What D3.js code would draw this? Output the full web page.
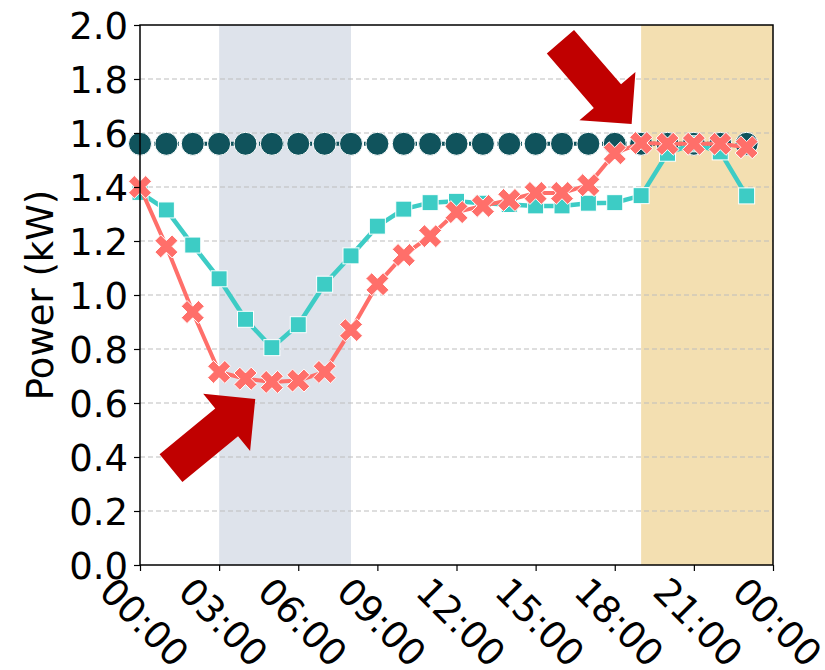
<!DOCTYPE html>
<html>
<head>
<meta charset="utf-8">
<script src="https://cdn.jsdelivr.net/npm/d3@7"></script>
<style>
  body { margin: 0; background: #fff; }
  svg { display: block; }
  text { font-family: "DejaVu Sans", sans-serif; fill: #000; }
</style>
</head>
<body>
<svg id="chart" width="825" height="670"></svg>
<script>
// Hour of day for each sample
const hours = [0, 1, 2, 3, 4, 5, 6, 7, 8, 9, 10, 11, 12, 13, 14, 15, 16, 17, 18, 19, 20, 21, 22, 23];

// Power draw (kW) per hour
const ratedPower = [1.56, 1.56, 1.56, 1.56, 1.56, 1.56, 1.56, 1.56, 1.56, 1.56, 1.56, 1.56,
                    1.56, 1.56, 1.56, 1.56, 1.56, 1.56, 1.56, 1.56, 1.56, 1.56, 1.56, 1.56];
const smoothedPower = [1.38, 1.315, 1.185, 1.06, 0.91, 0.805, 0.89, 1.04, 1.145, 1.255, 1.318, 1.342,
                       1.347, 1.34, 1.335, 1.33, 1.33, 1.34, 1.342, 1.368, 1.525, 1.56, 1.53, 1.367];
const shiftedPower = [1.40, 1.18, 0.937, 0.715, 0.69, 0.678, 0.683, 0.715, 0.87, 1.04, 1.148, 1.218,
                      1.307, 1.33, 1.352, 1.378, 1.378, 1.407, 1.525, 1.563, 1.56, 1.56, 1.56, 1.547];

// Axis ticks
const xTicks = [0, 3, 6, 9, 12, 15, 18, 21, 24];
const xTickLabels = ["00:00", "03:00", "06:00", "09:00", "12:00", "15:00", "18:00", "21:00", "00:00"];
const yTicks = [0.0, 0.2, 0.4, 0.6, 0.8, 1.0, 1.2, 1.4, 1.6, 1.8, 2.0];

// Shaded periods (hours)
const offPeakPeriod = [3, 8];
const eveningPeriod = [19, 24];

// Callout arrows: [tail hour, tail kW, tip hour, tip kW]
const arrowTop = [15.94, 1.938, 18.64, 1.633];
const arrowBottom = [1.175, 0.359, 4.37, 0.615];

const svg = d3.select("#chart");
const margin = { left: 140, right: 52, top: 25, bottom: 105 };
const W = 825, H = 670;

const x = d3.scaleLinear().domain([0, 24]).range([margin.left, W - margin.right]);
const y = d3.scaleLinear().domain([0, 2]).range([H - margin.bottom, margin.top]);

// shaded periods
svg.append("rect")
  .attr("x", x(offPeakPeriod[0])).attr("y", y(2))
  .attr("width", x(offPeakPeriod[1]) - x(offPeakPeriod[0]))
  .attr("height", y(0) - y(2))
  .attr("fill", "#dee3eb");
svg.append("rect")
  .attr("x", x(eveningPeriod[0])).attr("y", y(2))
  .attr("width", x(eveningPeriod[1]) - x(eveningPeriod[0]))
  .attr("height", y(0) - y(2))
  .attr("fill", "#f3dfb1");

// horizontal grid
svg.append("g")
  .selectAll("line")
  .data(yTicks.slice(1, -1))
  .join("line")
  .attr("x1", x(0)).attr("x2", x(24))
  .attr("y1", d => y(d)).attr("y2", d => y(d))
  .attr("stroke", "#bdbdbd")
  .attr("stroke-width", 1)
  .attr("stroke-dasharray", "5,3");

// series lines
const line = d3.line().x((d, i) => x(hours[i])).y(d => y(d));

svg.append("path").datum(ratedPower)
  .attr("d", line).attr("fill", "none")
  .attr("stroke", "#10535c").attr("stroke-width", 4)
  .attr("stroke-dasharray", "4,3");

svg.append("g").selectAll("circle")
  .data(ratedPower).join("circle")
  .attr("cx", (d, i) => x(hours[i])).attr("cy", d => y(d))
  .attr("r", 11.5)
  .attr("fill", "#10535c").attr("stroke", "#ffffff").attr("stroke-width", 1);

svg.append("path").datum(smoothedPower)
  .attr("d", line).attr("fill", "none")
  .attr("stroke", "#3dccc5").attr("stroke-width", 4.5);

svg.append("g").selectAll("rect")
  .data(smoothedPower).join("rect")
  .attr("x", (d, i) => x(hours[i]) - 8).attr("y", d => y(d) - 8)
  .attr("width", 16).attr("height", 16)
  .attr("fill", "#3dccc5").attr("stroke", "#ffffff").attr("stroke-width", 1);

svg.append("path").datum(shiftedPower)
  .attr("d", line).attr("fill", "none")
  .attr("stroke", "#ff6f6a").attr("stroke-width", 4);

// filled "X" marker
function xMarker(half, w) {
  const L = half * Math.SQRT2 - w;
  const pts = [[w, L], [w, w], [L, w], [L, -w], [w, -w], [w, -L], [-w, -L], [-w, -w], [-L, -w], [-L, w], [-w, w], [-w, L]];
  const c = Math.SQRT1_2;
  return "M" + pts.map(([a, b]) => [(a - b) * c, (a + b) * c].map(v => v.toFixed(2)).join(",")).join("L") + "Z";
}
const xPath = xMarker(11.5, 4.1);
svg.append("g").selectAll("path")
  .data(shiftedPower).join("path")
  .attr("transform", (d, i) => `translate(${x(hours[i])},${y(d)})`)
  .attr("d", xPath)
  .attr("fill", "#ff6f6a").attr("stroke", "#ffffff").attr("stroke-width", 1);

// block arrows
function blockArrow(spec) {
  const [x0, y0, x1, y1] = [x(spec[0]), y(spec[1]), x(spec[2]), y(spec[3])];
  const dx = x1 - x0, dy = y1 - y0, len = Math.hypot(dx, dy);
  const ux = dx / len, uy = dy / len, px = -uy, py = ux;
  const shaftW = 18, headW = 37, headL = 37;
  const bx = x1 - ux * headL, by = y1 - uy * headL;
  const pts = [
    [x0 + px * shaftW, y0 + py * shaftW],
    [bx + px * shaftW, by + py * shaftW],
    [bx + px * headW, by + py * headW],
    [x1, y1],
    [bx - px * headW, by - py * headW],
    [bx - px * shaftW, by - py * shaftW],
    [x0 - px * shaftW, y0 - py * shaftW]
  ];
  return "M" + pts.map(p => p.join(",")).join("L") + "Z";
}
svg.append("path").attr("d", blockArrow(arrowTop)).attr("fill", "#c00000");
svg.append("path").attr("d", blockArrow(arrowBottom)).attr("fill", "#c00000");

// axes
const yAxis = svg.append("g")
  .attr("transform", `translate(${x(0)},0)`)
  .call(d3.axisLeft(y).tickValues(yTicks).tickFormat(d3.format(".1f")).tickSize(6).tickPadding(6));
yAxis.select(".domain").remove();
yAxis.selectAll("line").attr("stroke", "#000").attr("stroke-width", 1.2);
yAxis.selectAll("text").attr("font-size", 37).attr("font-family", "DejaVu Sans").attr("dy", "0.36em");

const xAxis = svg.append("g")
  .attr("transform", `translate(0,${y(0)})`)
  .call(d3.axisBottom(x).tickValues(xTicks).tickFormat((d, i) => xTickLabels[i]).tickSize(6));
xAxis.select(".domain").remove();
xAxis.selectAll("line").attr("stroke", "#000").attr("stroke-width", 1.2);
xAxis.selectAll("text")
  .attr("font-size", 37).attr("font-family", "DejaVu Sans")
  .attr("text-anchor", "middle")
  .attr("y", 0).attr("dy", "0.36em")
  .attr("transform", "translate(4,57) rotate(45)");

// frame
svg.append("rect")
  .attr("x", x(0)).attr("y", y(2))
  .attr("width", x(24) - x(0)).attr("height", y(0) - y(2))
  .attr("fill", "none").attr("stroke", "#000").attr("stroke-width", 1.5);

// y axis title
svg.append("text")
  .attr("transform", `translate(40,${(y(0) + y(2)) / 2}) rotate(-90)`)
  .attr("text-anchor", "middle").attr("dy", "0.36em")
  .attr("font-size", 37)
  .text("Power (kW)");
</script>
</body>
</html>
